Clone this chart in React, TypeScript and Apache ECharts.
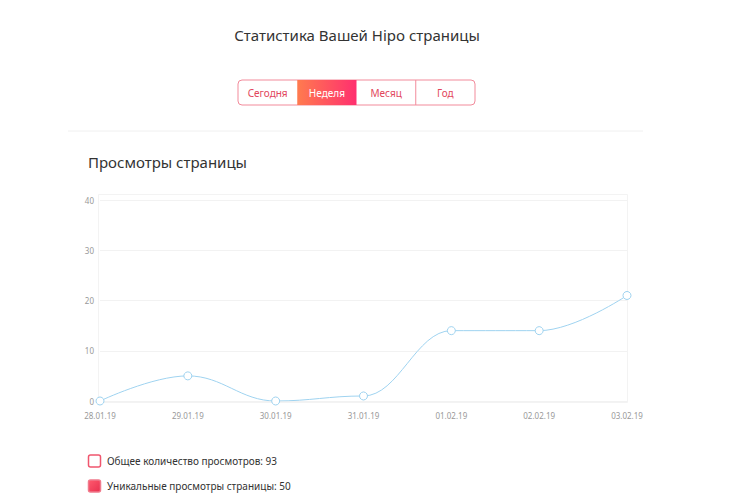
import React, { useEffect, useRef } from "react";
import * as echarts from "echarts";

const title = "Статистика Вашей Hipo страницы";
const periodTabs = ["Сегодня", "Неделя", "Месяц", "Год"];
const activeTab = 1;
const chartTitle = "Просмотры страницы";
const categories = ["28.01.19", "29.01.19", "30.01.19", "31.01.19", "01.02.19", "02.02.19", "03.02.19"];
const views = [0, 5, 0, 1, 14, 14, 21];
const legendItems = ["Общее количество просмотров: 93", "Уникальные просмотры страницы: 50"];
const legendChecked = [false, true];

const FONT = "Noto Sans, sans-serif";

export default function App() {
  const ref = useRef<HTMLDivElement>(null);
  useEffect(() => {
    if (!ref.current) return;
    const chart = echarts.init(ref.current, null, { renderer: "svg" });
    const tabX0 = 238;
    const tabW = 59.25;
    const graphics: any[] = [];
    graphics.push({
      type: "text",
      x: 357,
      y: 35,
      style: { text: title, fill: "#333", font: `15px ${FONT}`, align: "center", verticalAlign: "middle" },
    });
    graphics.push({
      type: "rect",
      shape: { x: tabX0, y: 80, width: tabW * 4, height: 25, r: 4 },
      style: { fill: "#fff", stroke: "#f28b9b", lineWidth: 1 },
    });
    periodTabs.forEach((t, i) => {
      const x = tabX0 + tabW * i;
      if (i === activeTab) {
        graphics.push({
          type: "rect",
          shape: { x, y: 80, width: tabW, height: 25 },
          style: {
            fill: new echarts.graphic.LinearGradient(0, 0, 1, 0, [
              { offset: 0, color: "#ff7b4f" },
              { offset: 1, color: "#ff2f6f" },
            ]),
          },
        });
      } else if (i > 0 && i !== activeTab + 1) {
        graphics.push({
          type: "line",
          shape: { x1: x, y1: 80, x2: x, y2: 105 },
          style: { stroke: "#f28b9b", lineWidth: 1 },
        });
      }
      graphics.push({
        type: "text",
        x: x + tabW / 2,
        y: 92.5,
        style: {
          text: t,
          fill: i === activeTab ? "#fff" : "#e2475d",
          font: `10px ${FONT}`,
          align: "center",
          verticalAlign: "middle",
        },
      });
    });
    graphics.push({
      type: "line",
      shape: { x1: 68, y1: 131, x2: 643, y2: 131 },
      style: { stroke: "#f0f0f0", lineWidth: 1 },
    });
    graphics.push({
      type: "text",
      x: 88,
      y: 162,
      style: { text: chartTitle, fill: "#333", font: `15px ${FONT}`, verticalAlign: "middle" },
    });
    graphics.push({
      type: "rect",
      z: -10,
      shape: { x: 98.5, y: 194.5, width: 529, height: 208 },
      style: { fill: "#fff", stroke: "#f3f3f3", lineWidth: 1 },
    });
    legendItems.forEach((t, i) => {
      const cy = 461 + i * 25;
      graphics.push({
        type: "rect",
        shape: { x: 88.5, y: cy - 6, width: 12, height: 12, r: 2 },
        style: {
          fill: legendChecked[i]
            ? new echarts.graphic.LinearGradient(0, 0, 1, 1, [
                { offset: 0, color: "#ff5a6e" },
                { offset: 1, color: "#e8304f" },
              ])
            : "#fff",
          stroke: legendChecked[i] ? "#f07a8c" : "#f0566e",
          lineWidth: 1.5,
        },
      });
      graphics.push({
        type: "text",
        x: 107,
        y: cy,
        style: { text: t, fill: "#333", font: `10px ${FONT}`, verticalAlign: "middle" },
      });
    });

    chart.setOption({
      animation: false,
      backgroundColor: "#fff",
      textStyle: { fontFamily: FONT },
      grid: { left: 100, right: 108, top: 200, bottom: 99, containLabel: false },
      xAxis: {
        type: "category",
        data: categories,
        boundaryGap: false,
        axisLine: { show: false },
        axisTick: { show: false },
        axisLabel: { color: "#999", fontSize: 8, margin: 10 },
        splitLine: { show: false },
      },
      yAxis: {
        type: "value",
        min: 0,
        max: 40,
        interval: 10,
        axisLine: { show: false },
        axisTick: { show: false },
        axisLabel: { color: "#999", fontSize: 8, margin: 6 },
        splitLine: { lineStyle: { color: "#f2f2f2", width: 1 } },
      },
      series: [
        {
          type: "line",
          data: views,
          smooth: 0.4,
          smoothMonotone: "x",
          symbol: "circle",
          symbolSize: 8,
          lineStyle: { color: "#9fd3f0", width: 1 },
          itemStyle: { color: "#fff", borderColor: "#9fd3f0", borderWidth: 1 },
          z: 5,
        },
      ],
      graphic: graphics,
    });
    return () => chart.dispose();
  }, []);
  return (
    <div
      ref={ref}
      style={{ position: "fixed", left: 0, top: 0, width: 735, height: 500 }}
    />
  );
}
